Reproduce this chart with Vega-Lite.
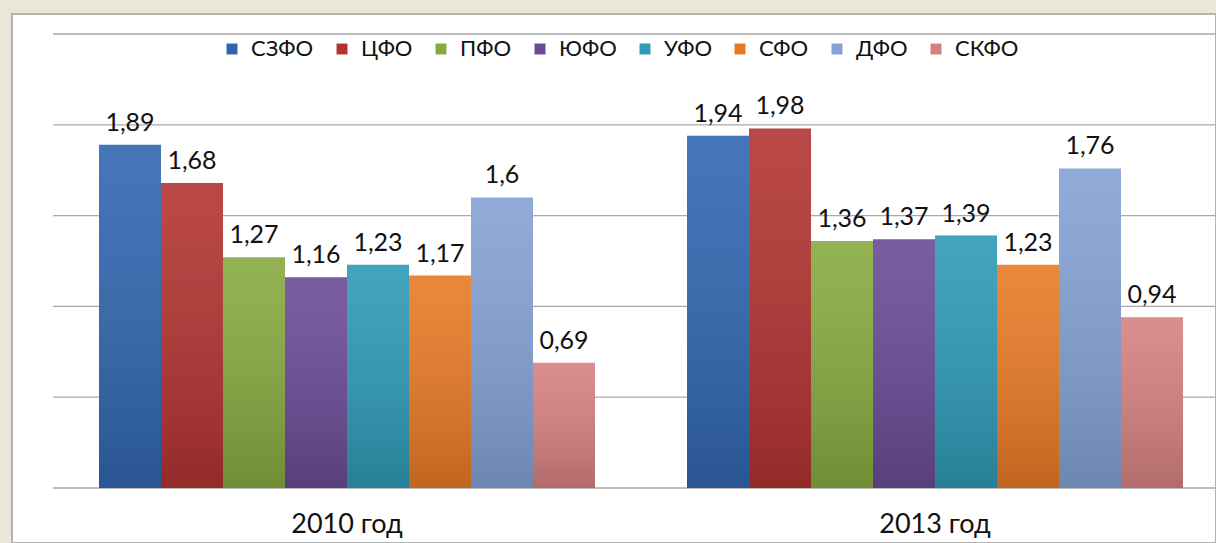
{
  "$schema": "https://vega.github.io/schema/vega-lite/v6.json",
  "autosize": {"type": "none"},
  "width": 1204,
  "height": 529,
  "padding": {"left": 12, "top": 14, "right": 0, "bottom": 0},
  "background": "#ebe7d8",
  "config": {
    "locale": {"number": {"decimal": ",", "thousands": " ", "grouping": [3], "currency": ["", ""]}},
    "view": {"fill": "white", "stroke": "#b3b3b3", "strokeWidth": 2},
    "font": "Lato"
  },
  "datasets": {
    "bars": [
      {"year": "2010 год", "region": "СЗФО", "value": 1.89},
      {"year": "2010 год", "region": "ЦФО", "value": 1.68},
      {"year": "2010 год", "region": "ПФО", "value": 1.27},
      {"year": "2010 год", "region": "ЮФО", "value": 1.16},
      {"year": "2010 год", "region": "УФО", "value": 1.23},
      {"year": "2010 год", "region": "СФО", "value": 1.17},
      {"year": "2010 год", "region": "ДФО", "value": 1.6},
      {"year": "2010 год", "region": "СКФО", "value": 0.69},
      {"year": "2013 год", "region": "СЗФО", "value": 1.94},
      {"year": "2013 год", "region": "ЦФО", "value": 1.98},
      {"year": "2013 год", "region": "ПФО", "value": 1.36},
      {"year": "2013 год", "region": "ЮФО", "value": 1.37},
      {"year": "2013 год", "region": "УФО", "value": 1.39},
      {"year": "2013 год", "region": "СФО", "value": 1.23},
      {"year": "2013 год", "region": "ДФО", "value": 1.76},
      {"year": "2013 год", "region": "СКФО", "value": 0.94}
    ],
    "grid": [{"g": 0}, {"g": 0.5}, {"g": 1}, {"g": 1.5}, {"g": 2}, {"g": 2.5}]
  },
  "layer": [
    {
      "data": {"name": "grid"},
      "mark": {"type": "rule", "color": "#a9a9a9", "strokeWidth": 1.3, "clip": true},
      "encoding": {
        "y": {"field": "g", "type": "quantitative", "scale": {"domain": [0, 2.5], "range": [474, 20], "nice": false, "zero": true}, "axis": null},
        "x": {"datum": "2010 год", "type": "nominal", "bandPosition": 0,
              "scale": {"domain": ["2010 год", "2013 год"], "range": [41, 1217], "paddingInner": 0, "paddingOuter": 0}},
        "x2": {"datum": "2013 год", "bandPosition": 0.977}
      }
    },
    {
      "data": {"name": "bars"},
      "mark": {"type": "bar"},
      "encoding": {
        "x": {"field": "year", "type": "nominal",
              "scale": {"domain": ["2010 год", "2013 год"], "range": [41, 1217], "paddingInner": 0, "paddingOuter": 0},
              "axis": {"title": null, "labelAngle": 0, "labelAlign": "center", "labelFont": "Lato", "labelFontSize": 27, "labelColor": "#111111",
                       "domain": false, "ticks": false, "offset": -55, "labelPadding": 36, "grid": false}},
        "xOffset": {"field": "region", "type": "nominal",
                    "scale": {"domain": ["СЗФО", "ЦФО", "ПФО", "ЮФО", "УФО", "СФО", "ДФО", "СКФО"], "paddingInner": 0, "paddingOuter": 0.742}},
        "y": {"field": "value", "type": "quantitative", "scale": {"domain": [0, 2.5], "range": [474, 20], "nice": false, "zero": true}, "axis": null},
        "color": {"field": "region", "type": "nominal",
                  "scale": {"domain": ["СЗФО", "ЦФО", "ПФО", "ЮФО", "УФО", "СФО", "ДФО", "СКФО"],
                            "range": ["#3166b1", "#b23331", "#86aa3f", "#6a4b96", "#2d9ab6", "#e87a25", "#84a2d5", "#d68181"]},
                  "legend": {"title": null, "orient": "none", "direction": "horizontal", "legendX": 209, "legendY": 24,
                             "symbolType": "square", "symbolSize": 120, "symbolStrokeWidth": 0, "symbolOpacity": 1,
                             "labelFont": "Lato", "labelFontSize": 22, "labelColor": "#111111", "labelOffset": 8,
                             "columnPadding": 17, "padding": 0}}
      }
    },
    {
      "data": {"name": "bars"},
      "mark": {"type": "bar",
               "fill": {"gradient": "linear", "x1": 0, "y1": 0, "x2": 0, "y2": 1,
                        "stops": [{"offset": 0, "color": "rgba(255,255,255,0.10)"}, {"offset": 1, "color": "rgba(0,0,0,0.17)"}]}},
      "encoding": {
        "x": {"field": "year", "type": "nominal"},
        "xOffset": {"field": "region", "type": "nominal"},
        "y": {"field": "value", "type": "quantitative"}
      }
    },
    {
      "data": {"name": "bars"},
      "mark": {"type": "text", "font": "Lato", "fontSize": 25, "color": "#111111", "baseline": "alphabetic", "dy": -14},
      "encoding": {
        "x": {"field": "year", "type": "nominal"},
        "xOffset": {"field": "region", "type": "nominal"},
        "y": {"field": "value", "type": "quantitative"},
        "text": {"field": "value", "type": "quantitative", "format": "~g"}
      }
    }
  ]
}
